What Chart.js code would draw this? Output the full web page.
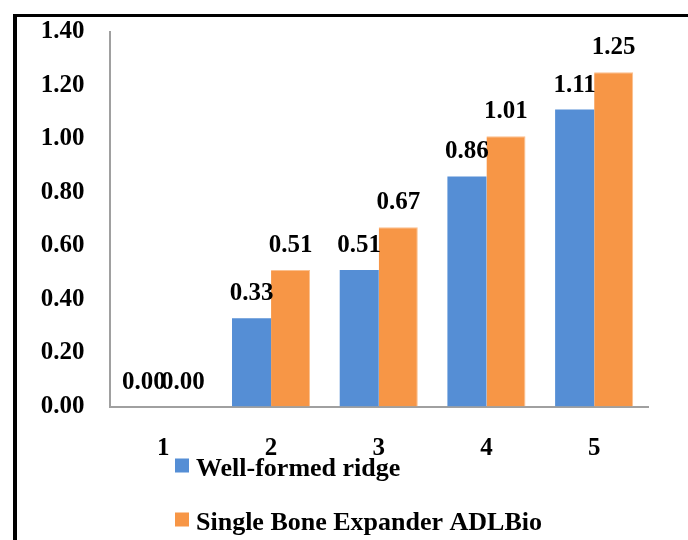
<!DOCTYPE html>
<html>
<head>
<meta charset="utf-8">
<script src="https://cdn.jsdelivr.net/npm/chart.js@4"></script>
<style>
html,body{margin:0;padding:0;background:#fff;}
#wrap{position:relative;width:688px;height:540px;}
</style>
</head>
<body>
<div id="wrap"><canvas id="c" width="688" height="540"></canvas></div>
<script>
const categories = ['1', '2', '3', '4', '5'];
const wellFormed = [0.00, 0.33, 0.51, 0.86, 1.11];
const singleBone = [0.00, 0.51, 0.67, 1.01, 1.25];
const seriesNames = ['Well-formed ridge', 'Single Bone Expander ADLBio'];
const yTicks = [0, 0.2, 0.4, 0.6, 0.8, 1.0, 1.2, 1.4];

const FONT = '"Liberation Serif", "Times New Roman", Times, "DejaVu Serif", serif';
const BLUE = '#558ed5';
const ORANGE = '#f79646';

const framePlugin = {
  id: 'frame',
  beforeDraw(chart) {
    const ctx = chart.ctx;
    ctx.save();
    ctx.fillStyle = '#fff';
    ctx.fillRect(0, 0, chart.width, chart.height);
    ctx.fillStyle = '#000';
    ctx.fillRect(13, 14, chart.width - 13, 3);
    ctx.fillRect(13, 14, 4, chart.height - 14);
    ctx.restore();
  }
};

const labelPlugin = {
  id: 'valueLabels',
  afterDatasetsDraw(chart) {
    const ctx = chart.ctx;
    ctx.save();
    ctx.font = 'bold 25px ' + FONT;
    ctx.fillStyle = '#000';
    ctx.textAlign = 'center';
    ctx.textBaseline = 'alphabetic';
    chart.data.datasets.forEach((ds, i) => {
      chart.getDatasetMeta(i).data.forEach((bar, j) => {
        ctx.fillText(ds.data[j].toFixed(2), bar.x, bar.y - 18);
      });
    });
    ctx.restore();
  }
};

const legendPlugin = {
  id: 'customLegend',
  afterDraw(chart) {
    const ctx = chart.ctx;
    const base = chart.chartArea.bottom;
    ctx.save();
    ctx.font = 'bold 26px ' + FONT;
    ctx.textAlign = 'left';
    ctx.textBaseline = 'alphabetic';
    chart.data.datasets.forEach((ds, i) => {
      const top = base + 52 + i * 54;
      ctx.fillStyle = ds.backgroundColor;
      ctx.fillRect(175, top, 14, 14);
      ctx.fillStyle = '#000';
      ctx.fillText(ds.label, 196, top + 17);
    });
    ctx.restore();
  }
};

new Chart(document.getElementById('c'), {
  type: 'bar',
  data: {
    labels: categories,
    datasets: [
      { label: seriesNames[0], data: wellFormed, backgroundColor: BLUE },
      { label: seriesNames[1], data: singleBone, backgroundColor: ORANGE, borderColor: '#fbc08f', borderWidth: {left:0, right:1, top:1, bottom:0} }
    ]
  },
  options: {
    responsive: false,
    animation: false,
    layout: { padding: { top: 32, right: 40, left: 0, bottom: 0 } },
    plugins: { legend: { display: false }, tooltip: { enabled: false } },
    datasets: { bar: { categoryPercentage: 0.725, barPercentage: 1.0 } },
    scales: {
      x: {
        grid: { display: false, drawTicks: false },
        border: { display: true, color: '#a0a0a0', width: 2 },
        ticks: { color: '#000', font: { family: FONT, weight: 'bold', size: 25 }, padding: 27, maxRotation: 0 },
        afterFit(scale) { scale.height = 133.5; scale.paddingLeft = 0; scale.paddingRight = 0; }
      },
      y: {
        min: 0, max: 1.4,
        grid: { display: false, drawTicks: false },
        border: { display: true, color: '#a0a0a0', width: 2 },
        afterBuildTicks(scale) { scale.ticks = yTicks.map(v => ({ value: v })); },
        ticks: {
          color: '#000',
          font: { family: FONT, weight: 'bold', size: 25 },
          padding: 25,
          callback: v => Number(v).toFixed(2)
        },
        afterFit(scale) { scale.width = 109.5; scale.paddingTop = 10; scale.paddingBottom = 10; }
      }
    }
  },
  plugins: [framePlugin, labelPlugin, legendPlugin]
});
</script>
</body>
</html>
